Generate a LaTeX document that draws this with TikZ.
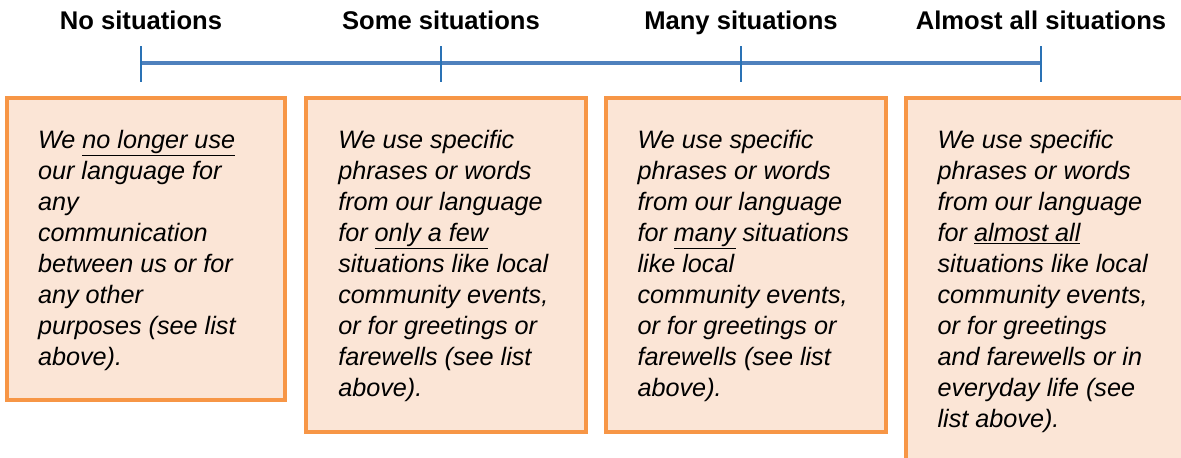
\documentclass[tikz,border=0pt]{standalone}
\usepackage{fontspec}
\setmainfont{Liberation Sans}
\usepackage{tikz}
\usetikzlibrary{positioning}

\definecolor{boxorange}{HTML}{F79646}
\definecolor{boxfill}{HTML}{FBE5D6}
\definecolor{lineblue}{HTML}{4F81BD}
\definecolor{tickblue}{HTML}{2A72B5}

\begin{document}
\begin{tikzpicture}[x=0.75pt, y=-0.75pt,
    head/.style = {font=\fontsize{19.2}{22}\selectfont\bfseries, anchor=base, inner sep=0pt},
    box/.style = {draw=boxorange, fill=boxfill, line width=3pt, anchor=north west, inner sep=0pt},
    txt/.style = {font=\fontsize{18.9}{23.25}\selectfont\itshape, align=left, anchor=north west, inner sep=0pt},
    tick/.style = {tickblue, line width=2.2pt}]

    \clip (0,0) rectangle (1181,457);

    % headings over the scale
    \node[head] (h1) at (141,29) {No situations};
    \node[head] (h2) at (441,29) {Some situations};
    \node[head] (h3) at (741,29) {Many situations};
    \node[head] (h4) at (1041,29) {Almost all situations};

    \coordinate (k1) at (141,63);
    \coordinate (k2) at (441,63);
    \coordinate (k3) at (741,63);
    \coordinate (k4) at (1041,63);

    \draw[lineblue, line width=2.3pt] (k1) -- (k4);
    \draw[tick] (k1) ++(0,-17) -- ++(0,36);
    \draw[tick] (k2) ++(0,-17) -- ++(0,36);
    \draw[tick] (k3) ++(0,-17) -- ++(0,36);
    \draw[tick] (k4) ++(0,-17) -- ++(0,36);

    % the four boxes
    \node[box, minimum width=208.9pt, minimum height=226.5pt] (b1) at (4.5,96) {};
    \node[box, minimum width=210pt, minimum height=250.5pt] (b2) at (304,96) {};
    \node[box, minimum width=210pt, minimum height=250.5pt] (b3) at (604,96) {};
    \node[box, minimum width=230pt, minimum height=290pt] (b4) at (904,96) {};

    \node[txt, below right=25.5pt and 25pt of b1.north west] (t1) {We \underline{no longer use}\\our language for\\any\\communication\\between us or for\\any other\\purposes (see list\\above).};
    \node[txt, below right=25.5pt and 25.5pt of b2.north west] (t2) {We use specific\\phrases or words\\from our language\\for \underline{only a few}\\situations like local\\community events,\\or for greetings or\\farewells (see list\\above).};
    \node[txt, below right=25.5pt and 25pt of b3.north west] (t3) {We use specific\\phrases or words\\from our language\\for \underline{many} situations\\like local\\community events,\\or for greetings or\\farewells (see list\\above).};
    \node[txt, below right=25.5pt and 25pt of b4.north west] (t4) {We use specific\\phrases or words\\from our language\\for \underline{almost all}\\situations like local\\community events,\\or for greetings\\and farewells or in\\everyday life (see\\list above).};
\end{tikzpicture}
\end{document}
